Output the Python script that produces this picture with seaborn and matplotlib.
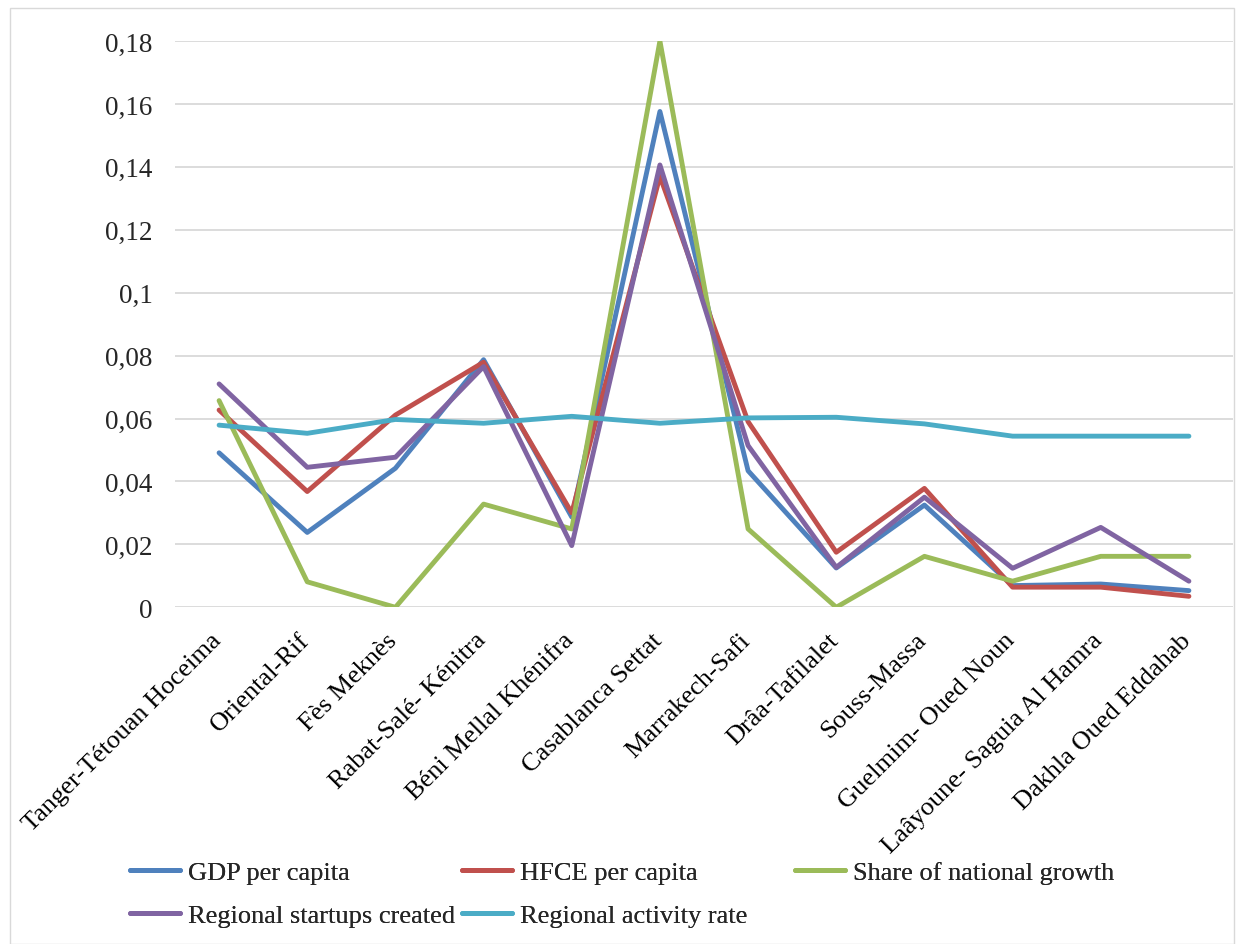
import matplotlib
matplotlib.use("Agg")
import matplotlib.pyplot as plt
from matplotlib.patches import Rectangle
from matplotlib.lines import Line2D
import seaborn as sns
import pandas as pd

regions = [
    "Tanger-Tétouan Hoceima", "Oriental-Rif", "Fès Meknès", "Rabat-Salé- Kénitra",
    "Béni Mellal Khénifra", "Casablanca Settat", "Marrakech-Safi", "Drâa-Tafilalet",
    "Souss-Massa", "Guelmim- Oued Noun", "Laâyoune- Saguia Al Hamra", "Dakhla Oued Eddahab",
]
gdp_per_capita = [0.0491, 0.0238, 0.0442, 0.0787, 0.0287, 0.1576, 0.0434, 0.0125, 0.0325, 0.0069, 0.0074, 0.0053]
hfce_per_capita = [0.0627, 0.0368, 0.0611, 0.0779, 0.0300, 0.1370, 0.0590, 0.0175, 0.0378, 0.0064, 0.0064, 0.0035]
share_national_growth = [0.0657, 0.0081, 0.0000, 0.0328, 0.0249, 0.1800, 0.0249, 0.0000, 0.0162, 0.0083, 0.0162, 0.0162]
startups_created = [0.0710, 0.0445, 0.0477, 0.0765, 0.0196, 0.1406, 0.0514, 0.0127, 0.0350, 0.0124, 0.0254, 0.0083]
activity_rate = [0.0579, 0.0553, 0.0597, 0.0585, 0.0607, 0.0585, 0.0602, 0.0604, 0.0583, 0.0544, 0.0544, 0.0544]

series_names = ["GDP per capita", "HFCE per capita", "Share of national growth",
                "Regional startups created", "Regional activity rate"]
series_values = [gdp_per_capita, hfce_per_capita, share_national_growth,
                 startups_created, activity_rate]
series_colors = ["#4F81BD", "#C0504D", "#9BBB59", "#8064A2", "#4BACC6"]
y_ticks = [0, 0.02, 0.04, 0.06, 0.08, 0.1, 0.12, 0.14, 0.16, 0.18]

rows = []
for name, vals in zip(series_names, series_values):
    for i, v in enumerate(vals):
        rows.append({"pos": i, "value": v, "series": name})
df = pd.DataFrame(rows)

sns.set_theme(style="white")
plt.rcParams["font.family"] = ["Liberation Serif", "DejaVu Serif"]
FS_TICK = 19.5
FS = 19
LW = 3.5

W, H = 1237, 945
fig = plt.figure(figsize=(W / 100, H / 100), dpi=100)
fig.patch.set_facecolor("white")
ax = fig.add_axes([175 / W, 1 - 608.3 / H, (1233 - 175) / W, (608.3 - 42) / H])

palette = dict(zip(series_names, series_colors))
sns.lineplot(data=df, x="pos", y="value", hue="series", hue_order=series_names,
             palette=palette, sort=False, linewidth=LW, legend=False, ax=ax,
             solid_capstyle="round", solid_joinstyle="round")

ax.set_xlim(-0.5, len(regions) - 0.5)
ax.set_ylim(0, 0.18)
ax.set_yticks(y_ticks)
ax.set_yticklabels([f"{v:g}".replace(".", ",") for v in y_ticks], fontsize=FS_TICK)
ax.tick_params(axis="y", length=0, pad=16)
ax.set_xticks(range(len(regions)))
ax.set_xticklabels([])
ax.tick_params(axis="x", length=0)
ax.grid(axis="y", color="#D9D9D9", linewidth=1.3)
ax.grid(axis="x", visible=False)
ax.set_axisbelow(True)
for s in ax.spines.values():
    s.set_visible(False)
ax.set_xlabel("")
ax.set_ylabel("")

# rotated region names, ending just under each category
for i, name in enumerate(regions):
    ax.annotate(name, xy=(i, 0), xycoords="data", xytext=(-1, -21),
                textcoords="offset points", rotation=45, rotation_mode="anchor",
                ha="right", va="center", fontsize=FS, color="black")

# legend laid out in fixed-width columns
handles = {n: Line2D([], [], color=c, linewidth=LW, solid_capstyle="round")
           for n, c in zip(series_names, series_colors)}
columns = [(130, ["GDP per capita", "Regional startups created"]),
           (462, ["HFCE per capita", "Regional activity rate"]),
           (795, ["Share of national growth"])]
for x0, names in columns:
    leg = fig.legend([handles[n] for n in names], names, loc="upper left",
                     bbox_to_anchor=(x0 / W, 1 - 862 / H), bbox_transform=fig.transFigure,
                     frameon=False, fontsize=FS, handlelength=1.9, handletextpad=0.3,
                     labelspacing=0.72, borderpad=0, borderaxespad=0)
    fig.add_artist(leg)

fig.add_artist(Rectangle((9.5 / W, 0.5 / H), (1233.5 - 9.5) / W, (936 / H),
                         transform=fig.transFigure, fill=False,
                         edgecolor="#D9D9D9", linewidth=1.0))

fig.savefig("out.png", dpi=100, facecolor="white")
